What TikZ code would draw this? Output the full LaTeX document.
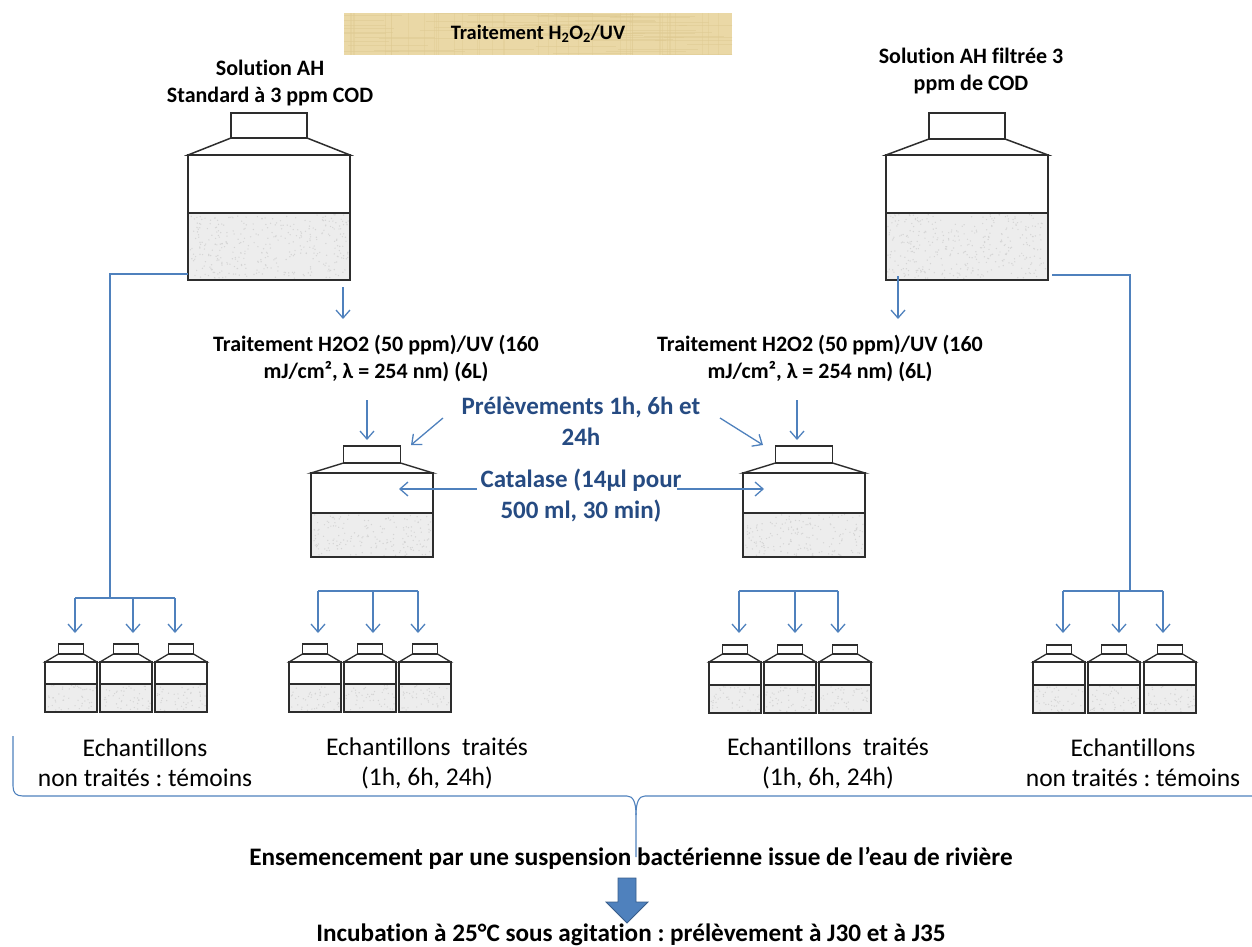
\documentclass[tikz,border=0pt]{standalone}
\usepackage{fontspec}
\setmainfont{Carlito}[Ligatures={NoCommon}]
\usetikzlibrary{arrows.meta}
\frenchspacing

\definecolor{linkblue}{RGB}{79,129,189}
\definecolor{edgeblue}{RGB}{56,93,138}
\definecolor{textblue}{RGB}{38,75,130}
\definecolor{papyrus}{RGB}{234,216,166}
\definecolor{papyrusdark}{RGB}{222,201,145}
\definecolor{inkgray}{RGB}{45,45,45}

% bottle: #1 centre x, #2 body width, #3 cap width, #4 cap top, #5 cap bottom,
% #6 body top, #7 liquid level, #8 bottom, #9 line width
\newcommand{\flacon}[9]{%
  \fill[gray!14] (#1-#2/2,#7) rectangle (#1+#2/2,#8);
  \pgfmathtruncatemacro\nspk{#2*(#8-#7)/30}%
  \foreach \k in {1,...,\nspk}{%
    \pgfmathsetmacro\px{#1-#2/2+1.5+rnd*(#2-3)}%
    \pgfmathsetmacro\py{#7+1.5+rnd*(#8-#7-3)}%
    \fill[gray!34] (\px,\py) circle (0.7);}%
  \begin{scope}[draw=inkgray,line width=#9,line join=miter]
    \draw (#1-#3/2,#4) rectangle (#1+#3/2,#5);
    \draw (#1-#3/2,#5) -- (#1-#2/2,#6) -- (#1+#2/2,#6) -- (#1+#3/2,#5) -- cycle;
    \draw (#1-#2/2,#6) rectangle (#1+#2/2,#8);
    \draw (#1-#2/2,#7) -- (#1+#2/2,#7);
  \end{scope}}

\tikzset{
  link/.style={draw=linkblue,line width=1.3pt},
  flow/.style={link,-{Straight Barb[length=8pt,width=14pt]}},
  headtext/.style={inner sep=0pt,align=center,font=\fontsize{22}{27}\selectfont\bfseries},
  bluetext/.style={inner sep=0pt,align=center,text=textblue,font=\fontsize{25}{31}\selectfont\bfseries},
  sampletext/.style={inner sep=0pt,align=center,font=\fontsize{25.5}{30}\selectfont},
  foottext/.style={inner sep=0pt,align=center,font=\fontsize{25.2}{30}\selectfont\bfseries},
}

\begin{document}
\begin{tikzpicture}[x=1pt,y=-1pt]
\useasboundingbox (0,0) rectangle (1252,947);
\pgfmathsetseed{4242}

% title banner with a light papyrus grain
\fill[papyrus] (344,13) rectangle (732,55);
\begin{scope}
  \clip (344,13) rectangle (732,55);
  \foreach \k in {1,...,60}{%
    \pgfmathsetmacro\gy{13+rnd*42}%
    \pgfmathsetmacro\gx{344+rnd*388}%
    \draw[papyrusdark,opacity=0.5,line width=0.6pt] (\gx-40,\gy) -- (\gx+40,\gy);}
  \foreach \k in {1,...,40}{%
    \pgfmathsetmacro\gx{344+rnd*388}%
    \draw[papyrusdark,opacity=0.4,line width=0.6pt] (\gx,13) -- (\gx,55);}
\end{scope}
\node[inner sep=0pt,font=\fontsize{20.5}{24}\selectfont\bfseries] (title) at (538,34)
  {Traitement H\textsubscript{2}O\textsubscript{2}/UV};

% stock solutions
\node[headtext] (solL) at (270,83) {Solution AH\\Standard à 3 ppm COD};
\node[headtext] (solR) at (971,71) {Solution AH filtrée 3\\ppm de COD};
\flacon{269}{162}{76}{113}{138}{155}{213}{280}{1.5pt}
\flacon{967}{162}{76}{113}{139}{155}{213}{280}{1.5pt}

% treatment steps
\node[headtext] (trtL) at (376,358) {Traitement H2O2 (50 ppm)/UV (160\\mJ/cm², λ = 254 nm) (6L)};
\node[headtext] (trtR) at (820,358) {Traitement H2O2 (50 ppm)/UV (160\\mJ/cm², λ = 254 nm) (6L)};
\coordinate (bigL-out) at (343,287);
\coordinate (trtL-in) at (343,319);
\coordinate (bigR-out) at (898,276);
\coordinate (trtR-in) at (898,319);
\draw[flow] (bigL-out) -- (trtL-in);
\draw[flow] (bigR-out) -- (trtR-in);

% treated bottles
\flacon{372}{122}{57}{446}{463}{473}{513}{557}{1.4pt}
\flacon{804}{122}{57}{446}{463}{473}{513}{557}{1.4pt}

\coordinate (trtL-out) at (367,400);
\coordinate (medL-cap) at (367,440);
\coordinate (trtR-out) at (797,400);
\coordinate (medR-cap) at (797,440);
\draw[flow] (trtL-out) -- (medL-cap);
\draw[flow] (trtR-out) -- (medR-cap);

\node[bluetext] (prel) at (581,421) {Prélèvements 1h, 6h et\\24h};
\node[bluetext] (cat) at (581,496) {Catalase (14µl pour\\500 ml, 30 min)};

\coordinate (prel-l) at (443,418);
\coordinate (medL-tip) at (411,445);
\coordinate (prel-r) at (720,418);
\coordinate (medR-tip) at (763,445);
\draw[flow] (prel-l) -- (medL-tip);
\draw[flow] (prel-r) -- (medR-tip);

\coordinate (cat-l) at (477,489);
\coordinate (medL-in) at (399,489);
\coordinate (cat-r) at (677,489);
\coordinate (medR-in) at (764,489);
\draw[flow] (cat-l) -- (medL-in);
\draw[flow] (cat-r) -- (medR-in);

% untreated controls, left
\coordinate (bigL-side) at (188,274);
\coordinate (L-knee) at (110,274);
\coordinate (L-split) at (110,598);
\draw[link] (bigL-side) -- (L-knee) -- (L-split);
\coordinate (L-a) at (75,598);
\coordinate (L-c) at (175,598);
\draw[link] (L-a) -- (L-c);
\foreach \x [count=\i] in {75,133,175}{
  \coordinate (Lt\i) at (\x,598);
  \coordinate (Lh\i) at (\x,633);
  \draw[flow] (Lt\i) -- (Lh\i);}
\foreach \cx in {71,126,181}{\flacon{\cx}{52}{25}{644}{654}{662}{684}{712}{1.3pt}}

% treated samples, left
\coordinate (TL-a) at (318,591);
\coordinate (TL-c) at (418,591);
\draw[link] (TL-a) -- (TL-c);
\foreach \x [count=\i] in {318,373,418}{
  \coordinate (TLt\i) at (\x,591);
  \coordinate (TLh\i) at (\x,633);
  \draw[flow] (TLt\i) -- (TLh\i);}
\foreach \cx in {315,370,425}{\flacon{\cx}{52}{25}{644}{654}{662}{684}{712}{1.3pt}}

% treated samples, right
\coordinate (TR-a) at (739,591);
\coordinate (TR-c) at (838,591);
\draw[link] (TR-a) -- (TR-c);
\foreach \x [count=\i] in {739,795,838}{
  \coordinate (TRt\i) at (\x,591);
  \coordinate (TRh\i) at (\x,633);
  \draw[flow] (TRt\i) -- (TRh\i);}
\foreach \cx in {735,790,845}{\flacon{\cx}{52}{25}{645}{654}{662}{685}{713}{1.3pt}}

% untreated controls, right
\coordinate (bigR-side) at (1052,275);
\coordinate (R-knee) at (1130,275);
\coordinate (R-split) at (1130,591);
\draw[link] (bigR-side) -- (R-knee) -- (R-split);
\coordinate (R-a) at (1063,591);
\coordinate (R-c) at (1163,591);
\draw[link] (R-a) -- (R-c);
\foreach \x [count=\i] in {1063,1119,1163}{
  \coordinate (Rt\i) at (\x,591);
  \coordinate (Rh\i) at (\x,633);
  \draw[flow] (Rt\i) -- (Rh\i);}
\foreach \cx in {1059,1114,1170}{\flacon{\cx}{52}{25}{645}{654}{662}{685}{713}{1.3pt}}

% sample labels
\node[sampletext] (labA) at (145,763) {Echantillons\\non traités : témoins};
\node[sampletext] (labB) at (427,763) {Echantillons\ \ traités\\(1h, 6h, 24h)};
\node[sampletext] (labC) at (828,763) {Echantillons\ \ traités\\(1h, 6h, 24h)};
\node[sampletext] (labD) at (1133,763) {Echantillons\\non traités : témoins};

% brace gathering all samples
\coordinate (br-top) at (13,736);
\coordinate (br-tip) at (636,857);
\coordinate (br-end) at (1252,796);
\draw[link,line width=1.1pt] (br-top) -- (13,786) .. controls (13,793) and (16,796) .. (23,796)
  -- (627,796) .. controls (633,796) and (636,802) .. (636,815) -- (br-tip);
\draw[link,line width=1.1pt] (br-end) -- (645,796) .. controls (639,796) and (636,802) .. (636,815);

% final steps
\node[foottext] (seed) at (631,858) {Ensemencement par une suspension bactérienne issue de l’eau de rivière};
\node[foottext] (incub) at (631,935) {Incubation à 25°C sous agitation : prélèvement à J30 et à J35};
\filldraw[fill=linkblue,draw=edgeblue,line width=0.8pt]
  (618,878) -- (636,878) -- (636,902) -- (648,902) -- (627,923) -- (606,902) -- (618,902) -- cycle;
\end{tikzpicture}
\end{document}
